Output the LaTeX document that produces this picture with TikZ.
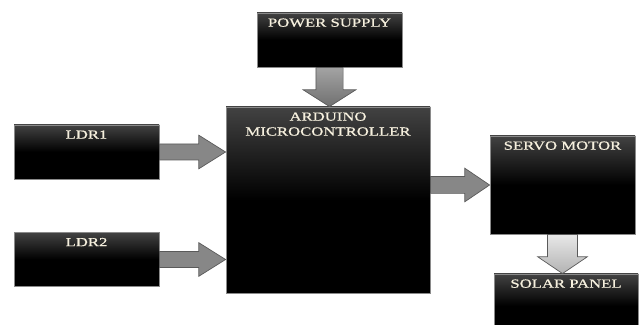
\documentclass[tikz,border=0pt]{standalone}
\usepackage{fontspec}
\usepackage{tikz}
\usetikzlibrary{calc}
\newfontfamily\labelfont[FakeStretch=1.35,FakeBold=0.8]{Liberation Serif}
\definecolor{labeltext}{HTML}{F6F0DE}
\definecolor{boxedge}{HTML}{8A8A8A}
\definecolor{arrowedge}{HTML}{5A5A5A}
\pgfdeclareverticalshading{blockshade}{100bp}{color(0bp)=(black); color(25bp)=(black); color(50bp)=(black); color(75bp)=(black!74); color(100bp)=(black!74)}

% block arrow: #1 style, #2 from, #3 to, #4 shaft half width, #5 head half width, #6 head length
\newcommand{\blockarrow}[6]{%
  \coordinate (hb) at ($(#3)!#6!(#2)$);
  \path[#1] ($(#2)!#4!90:(#3)$) -- ($(hb)!#4!90:(#3)$) -- ($(hb)!#5!90:(#3)$) -- (#3)
    -- ($(hb)!#5!-90:(#3)$) -- ($(hb)!#4!-90:(#3)$) -- ($(#2)!#4!-90:(#3)$) -- cycle;
}

\begin{document}
\begin{tikzpicture}[
    block/.style={draw=boxedge, line width=0.6pt, shading=blockshade, inner sep=0pt, minimum width=3.625cm, minimum height=1.35cm},
    boxlabel/.style={anchor=north, yshift=-4pt, inner sep=0pt, text=labeltext, align=center, font=\labelfont\fontsize{8.8}{10.6}\selectfont},
    grayarrow/.style={draw=arrowedge, line width=0.5pt, fill=black!47},
    darkarrow/.style={draw=arrowedge, line width=0.5pt, top color=black!36, bottom color=black!56},
    lightarrow/.style={draw=arrowedge, line width=0.5pt, top color=black!9, bottom color=black!30}
]
    \useasboundingbox (0,0) rectangle (16,-8.125);

    % Blocks
    \node[block, label={[boxlabel]north:POWER SUPPLY}] (power) at (8.2375,-1.0) {};
    \node[block, minimum width=5.1cm, minimum height=4.65cm, label={[boxlabel]north:ARDUINO\\MICROCONTROLLER}] (arduino) at (8.2,-5.0) {};
    \node[block, label={[boxlabel]north:LDR1}] (ldr1) at (2.1625,-3.8) {};
    \node[block, label={[boxlabel]north:LDR2}] (ldr2) at (2.1625,-6.4875) {};
    \node[block, minimum height=2.45cm, label={[boxlabel]north:SERVO MOTOR}] (servo) at (14.0625,-4.625) {};
    \node[block, minimum width=3.6cm, minimum height=1.6cm, label={[boxlabel]north:SOLAR PANEL}] (solar) at (14.15,-7.65) {};

    % Connection points
    \coordinate (ldr1in) at (arduino.west |- ldr1.east);
    \coordinate (ldr2in) at (arduino.west |- ldr2.east);
    \coordinate (powerin) at (power.south |- arduino.north);
    \coordinate (servoout) at (arduino.east |- servo.west);
    \coordinate (solarin) at (servo.south |- solar.north);

    % Arrows
    \blockarrow{darkarrow}{power.south}{powerin}{0.34cm}{0.66cm}{0.42cm}
    \blockarrow{grayarrow}{ldr1.east}{ldr1in}{0.2cm}{0.42cm}{0.67cm}
    \blockarrow{grayarrow}{ldr2.east}{ldr2in}{0.2cm}{0.42cm}{0.67cm}
    \blockarrow{grayarrow}{servoout}{servo.west}{0.21cm}{0.42cm}{0.62cm}
    \blockarrow{lightarrow}{servo.south}{solarin}{0.375cm}{0.62cm}{0.42cm}

\end{tikzpicture}
\end{document}
